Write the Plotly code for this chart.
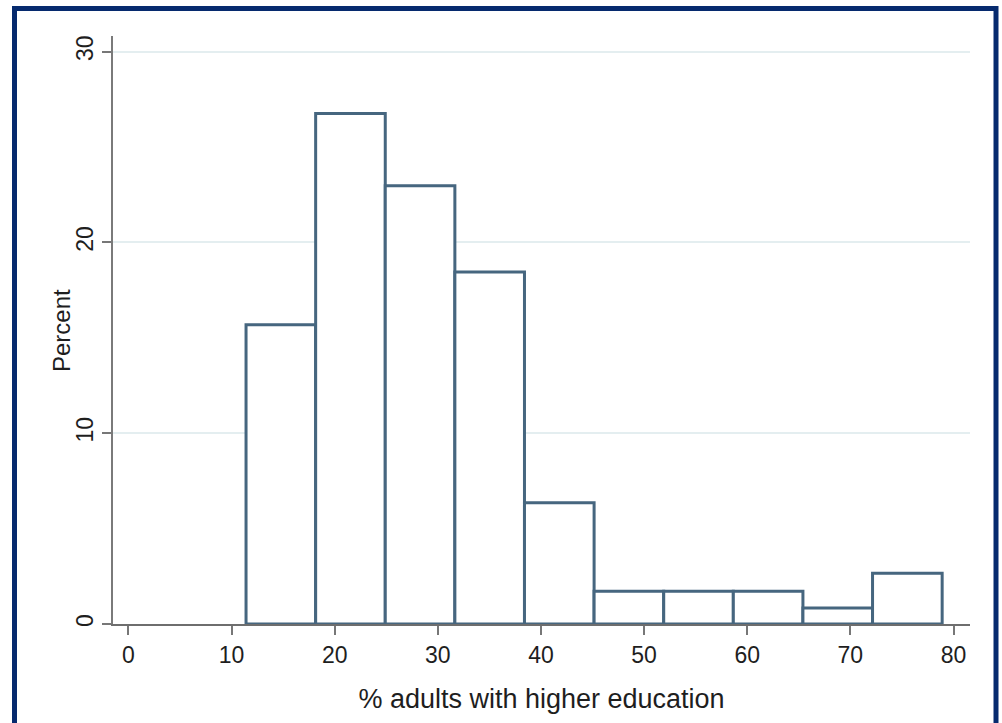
import plotly.graph_objects as go

# Histogram data (percent of areas in each bin)
bin_edges = [11.4, 18.15, 24.9, 31.65, 38.4, 45.15, 51.9, 58.65, 65.4, 72.15, 78.9]
percents = [15.68, 26.76, 22.97, 18.45, 6.35, 1.72, 1.72, 1.72, 0.84, 2.66]

x_ticks = [0, 10, 20, 30, 40, 50, 60, 70, 80]
y_ticks = [0, 10, 20, 30]
x_title = "% adults with higher education"
y_title = "Percent"

lefts = bin_edges[:-1]
widths = [b - a for a, b in zip(bin_edges[:-1], bin_edges[1:])]

FONT = "Liberation Sans, Arial, sans-serif"

fig = go.Figure()
fig.add_trace(go.Bar(
    x=lefts, y=percents, width=widths, offset=0,
    marker=dict(color="white", line=dict(color="#46667f", width=3)),
    cliponaxis=False, hoverinfo="skip", showlegend=False,
))

W, H = 1002, 723
ml, mr, mt, mb = 113, 32, 36, 99
pw = W - ml - mr
ph = H - mt - mb

def px2paper_x(px):
    return (px - ml) / pw

def px2paper_y(py):
    return (H - mb - py) / ph

fig.update_layout(
    width=W, height=H,
    margin=dict(l=ml, r=mr, t=mt, b=mb, pad=0),
    paper_bgcolor="white", plot_bgcolor="white",
    font=dict(family=FONT, color="#1e1e1e", size=23),
    xaxis=dict(
        range=[-1.5, 81.6], tickvals=x_ticks, ticktext=[str(v) for v in x_ticks],
        showgrid=False, zeroline=False,
        showline=True, linecolor="#6e6e6e", linewidth=2,
        ticks="outside", ticklen=9, tickwidth=2, tickcolor="#777777",
        tickfont=dict(size=23, color="#1e1e1e"),
        title=dict(text=x_title, font=dict(size=27, color="#1e1e1e"), standoff=23),
    ),
    yaxis=dict(
        range=[0, 30.82], tickvals=y_ticks, ticktext=[str(v) for v in y_ticks],
        tickangle=-90,
        showgrid=True, gridcolor="#e4eef0", gridwidth=1.5,
        zeroline=False,
        showline=True, linecolor="#7a7a7a", linewidth=2,
        ticks="outside", ticklen=9, tickwidth=2, tickcolor="#777777",
        tickfont=dict(size=23, color="#1e1e1e"),
    ),
    annotations=[dict(
        text=y_title, textangle=-90, showarrow=False,
        xref="paper", yref="paper",
        x=px2paper_x(61), y=px2paper_y(331),
        xanchor="center", yanchor="middle",
        font=dict(size=24, color="#1e1e1e"),
    )],
    shapes=[dict(
        type="rect", xref="paper", yref="paper",
        x0=px2paper_x(14.5), x1=px2paper_x(996),
        y0=px2paper_y(740), y1=px2paper_y(8.5),
        line=dict(color="#062a6e", width=5), fillcolor="rgba(0,0,0,0)",
        layer="above",
    )],
)

fig.write_html(
    "out.html",
    config={"displayModeBar": False},
    post_script="document.body.style.margin='0px';document.body.style.overflow='hidden';",
)
